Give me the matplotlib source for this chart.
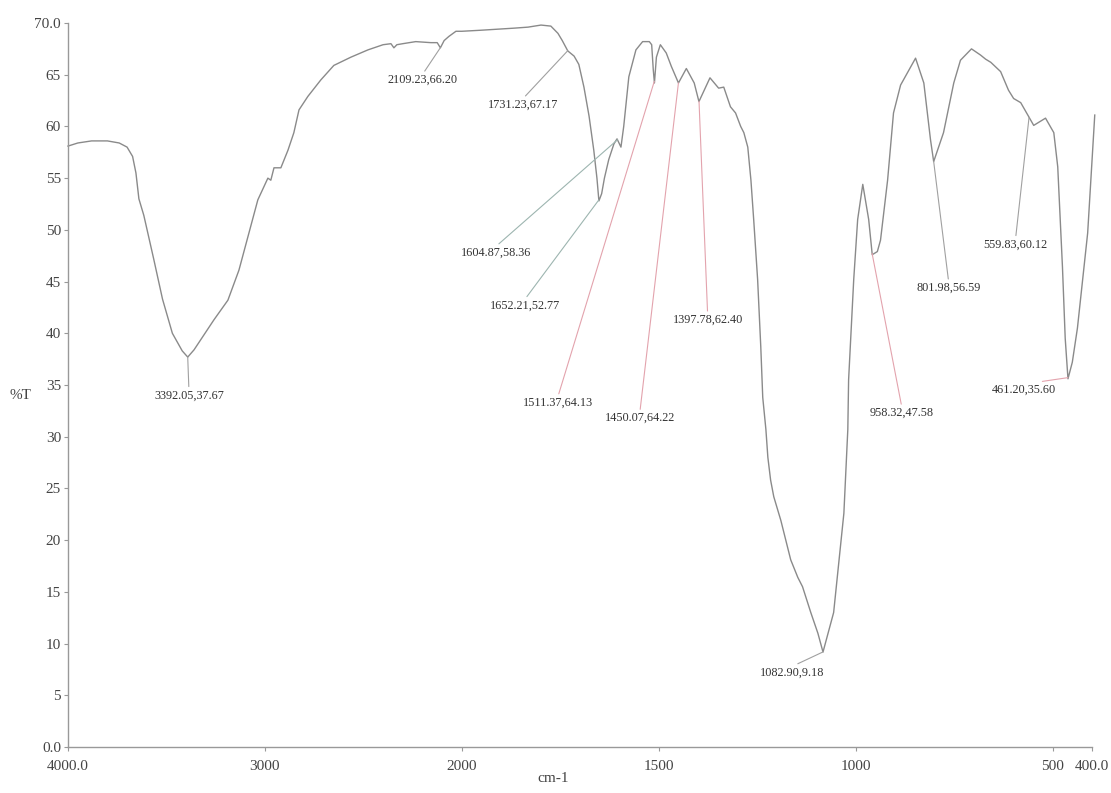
import numpy as np
import matplotlib
matplotlib.use('Agg')
import matplotlib.pyplot as plt

# spectrum (wavenumber cm-1, %T)
wavenumber = [4000, 3950, 3880, 3800, 3740, 3700, 3672, 3655, 3640, 3615,
              3565, 3520, 3470, 3420, 3392, 3360, 3325, 3259, 3188, 3132,
              3036, 2985, 2970, 2954, 2919, 2883, 2853, 2827, 2782, 2716,
              2650, 2563, 2477, 2400, 2360, 2345, 2330, 2300, 2234, 2157,
              2125, 2109, 2090, 2066, 2030, 2000, 1952, 1868, 1832, 1799,
              1774, 1756, 1745, 1731, 1715, 1703, 1690, 1677, 1665, 1657,
              1652, 1645, 1638, 1627, 1614, 1606, 1596, 1589, 1576, 1558,
              1541, 1524, 1518, 1514, 1511, 1506, 1496, 1481, 1468, 1450,
              1430, 1410, 1398, 1370, 1348, 1335, 1318, 1305, 1292, 1284,
              1274, 1266, 1259, 1249, 1241, 1236, 1228, 1223, 1216, 1208,
              1190, 1165, 1147, 1135, 1114, 1096, 1083, 1056, 1030, 1020,
              1018, 1005, 995, 982, 967, 958, 945, 937, 919, 904,
              886, 848, 827, 810, 802, 777, 751, 734, 706, 683,
              670, 657, 632, 612, 599, 581, 563, 548, 518, 497,
              487, 475, 468, 461, 450, 437, 411, 393]
transmittance = [58.1, 58.4, 58.6, 58.6, 58.4, 58.0, 57.1, 55.5, 53.0, 51.4,
                 47.2, 43.3, 40.0, 38.3, 37.7, 38.4, 39.4, 41.3, 43.2, 46.1,
                 52.9, 55.0, 54.8, 56.0, 56.0, 57.7, 59.4, 61.6, 62.9, 64.5,
                 65.9, 66.7, 67.4, 67.9, 68.0, 67.6, 67.9, 68.0, 68.2, 68.1,
                 68.1, 67.6, 68.3, 68.7, 69.2, 69.2, 69.3, 69.5, 69.6, 69.8,
                 69.7, 69.0, 68.3, 67.3, 66.8, 66.0, 63.8, 61.0, 57.7, 55.0,
                 52.8, 53.5, 55.0, 56.8, 58.3, 58.8, 58.0, 60.0, 64.8, 67.4,
                 68.2, 68.2, 67.9, 65.5, 64.2, 66.7, 67.9, 67.1, 65.8, 64.2,
                 65.6, 64.2, 62.4, 64.7, 63.7, 63.8, 61.9, 61.3, 60.0, 59.4,
                 58.0, 54.8, 51.0, 45.2, 38.7, 33.8, 30.7, 28.0, 25.8, 24.2,
                 21.9, 18.1, 16.4, 15.5, 13.0, 11.0, 9.18, 13.0, 22.6, 30.7,
                 35.5, 45.2, 51.0, 54.4, 51.0, 47.6, 47.9, 49.0, 54.8, 61.3,
                 64.0, 66.6, 64.2, 58.7, 56.6, 59.4, 64.2, 66.4, 67.5, 66.9,
                 66.5, 66.2, 65.3, 63.5, 62.7, 62.3, 61.1, 60.1, 60.8, 59.4,
                 56.1, 46.4, 39.5, 35.6, 37.2, 40.5, 49.7, 61.1]

# labelled peaks
peak_wn = [3392.05, 2109.23, 1731.23, 1604.87, 1652.21, 1511.37, 1450.07,
           1397.78, 1082.90, 958.32, 801.98, 559.83, 461.20]
peak_t = [37.67, 66.20, 67.17, 58.36, 52.77, 64.13, 64.22,
          62.40, 9.18, 47.58, 56.59, 60.12, 35.60]

# where each label sits, and its leader colour
label_pos = [(3386, 34.0), (2198, 64.5), (1845, 62.1), (1914, 47.8),
             (1840, 42.7), (1756, 33.3), (1548, 31.8), (1376, 41.3),
             (1162, 7.2), (883, 32.3), (764, 44.4), (594, 48.6), (574, 34.5)]
grey, teal, pink = '#a0a0a0', '#9db5b0', '#e3a3ad'
leader_col = [grey, grey, grey, teal, teal, pink, pink, pink,
              grey, pink, grey, grey, pink]

xticks = [4000, 3000, 2000, 1500, 1000, 500, 400]
xticklabels = ['4000.0', '3000', '2000', '1500', '1000', '500', '400.0']
yticks = list(range(0, 75, 5))
yticklabels = ['0.0'] + [str(v) for v in yticks[1:-1]] + ['70.0']


def fwd(x):
    '''above 2000 the axis is compressed by half'''
    x = np.asarray(x, dtype=float)
    return np.where(x > 2000, 2000 + (x - 2000) / 2, x)


def inv(u):
    u = np.asarray(u, dtype=float)
    return np.where(u > 2000, 2000 + (u - 2000) * 2, u)


plt.rcParams['font.family'] = ['Liberation Serif', 'DejaVu Serif']

fig = plt.figure(figsize=(11.11, 7.93), dpi=100)
ax = fig.add_axes([68 / 1111, 46 / 793, 1024 / 1111, 724 / 793])

ax.set_xscale('function', functions=(fwd, inv))
ax.plot(wavenumber, transmittance, color='#8a8a8a', lw=1.0, clip_on=False)
ax.set_xlim(4000, 400)
ax.set_ylim(0, 70)

for s in ['top', 'right']:
    ax.spines[s].set_visible(False)
for s in ['left', 'bottom']:
    ax.spines[s].set_color('#999999')
    ax.spines[s].set_linewidth(1.0)

ax.set_xticks(xticks)
ax.set_xticklabels(xticklabels)
ax.set_yticks(yticks)
ax.set_yticklabels(yticklabels)
ax.minorticks_off()
ax.tick_params(axis='both', direction='out', length=3, width=0.8,
               color='#999999', labelcolor='#444444', labelsize=11)
ax.tick_params(axis='x', pad=6)
ax.tick_params(axis='y', pad=2)

wn_rev = np.array(wavenumber[::-1], dtype=float)
t_rev = np.array(transmittance[::-1], dtype=float)
for w, t, pos, c in zip(peak_wn, peak_t, label_pos, leader_col):
    yy = np.interp(w, wn_rev, t_rev)
    ax.annotate(f'{w:.2f},{t:.2f}', xy=(w, yy), xytext=pos,
                ha='center', va='center', fontsize=8.8, color='#333333',
                arrowprops=dict(arrowstyle='-', color=c, lw=0.8,
                                shrinkA=0, shrinkB=0, relpos=(0.5, 1.0)))

fig.text(20 / 1111, 1 - 395 / 793, '%T', ha='center', va='center',
         fontsize=11, color='#444444')
fig.text(553 / 1111, 1 - 779 / 793, 'cm-1', ha='center', va='center',
         fontsize=11, color='#444444')

fig.savefig('out.png', dpi=100, facecolor='white')
